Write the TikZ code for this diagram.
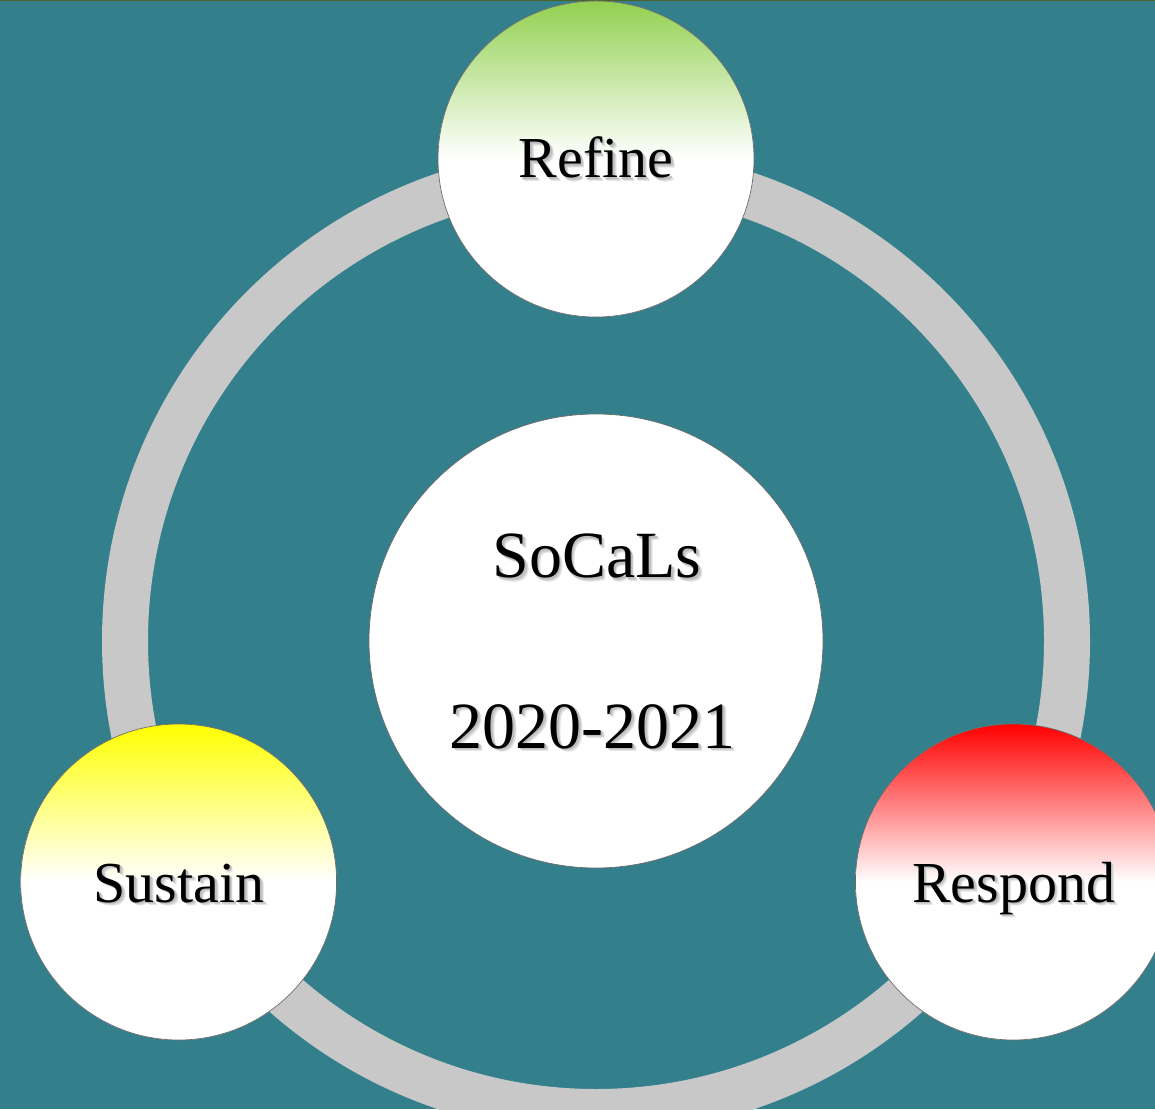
\documentclass[tikz,border=0pt]{standalone}
\usepackage{fontspec}
\setmainfont{Liberation Serif}
\definecolor{bg}{HTML}{337F8C}
\definecolor{ringc}{HTML}{C8C8C8}
\definecolor{topline}{HTML}{4F6228}
\definecolor{cgreen}{HTML}{92D050}
\definecolor{cyellow}{HTML}{FFFF00}
\definecolor{cred}{HTML}{FF0000}
\definecolor{edgec}{HTML}{6A6A6A}
\pgfdeclareverticalshading{fadegreen}{100bp}{color(0bp)=(white); color(50bp)=(white); color(75bp)=(cgreen); color(100bp)=(cgreen)}
\pgfdeclareverticalshading{fadeyellow}{100bp}{color(0bp)=(white); color(50bp)=(white); color(75bp)=(cyellow); color(100bp)=(cyellow)}
\pgfdeclareverticalshading{fadered}{100bp}{color(0bp)=(white); color(50bp)=(white); color(75bp)=(cred); color(100bp)=(cred)}
\tikzset{
  disc/.style={circle, draw=edgec, line width=0.7pt, fill=white, inner sep=0pt, minimum size=#1},
  sat/.style={disc=316pt, path picture={\shade[shading=#1]
      (path picture bounding box.south west) rectangle (path picture bounding box.north east);}},
  lbl/.style={anchor=base, inner sep=0pt, font=\fontsize{58}{60}\selectfont, text=black},
  clbl/.style={anchor=base, inner sep=0pt, font=\fontsize{66}{70}\selectfont, text=black},
}
\newcommand\shtext[1]{%
  \rlap{\kern3.6pt\raisebox{-3.6pt}{\color{black!10}#1}}%
  \rlap{\kern2.7pt\raisebox{-2.7pt}{\color{black!18}#1}}%
  \rlap{\kern1.8pt\raisebox{-1.8pt}{\color{black!26}#1}}%
  #1}
\begin{document}
\begin{tikzpicture}[x=1pt, y=1pt]
  \useasboundingbox (0,0) rectangle (1155,1109);
  \clip (0,0) rectangle (1155,1109);
  \fill[bg] (0,0) rectangle (1155,1109);
  \fill[topline] (0,1107.5) rectangle (1155,1109);
  % ring
  \coordinate (hub) at (596,468);
  \draw[ringc, line width=46pt] (hub) circle[radius=471];
  % discs
  \node[sat=fadegreen] (refine) at (596,950) {};
  \node[sat=fadeyellow] (sustain) at (178.6,227) {};
  \node[sat=fadered] (respond) at (1013.4,227) {};
  \node[disc=454pt] (center) at (hub) {};
  % labels
  \node[lbl] (trefine) at (596,931) {\shtext{Refine}};
  \node[lbl] (tsustain) at (179,207) {\shtext{Sustain}};
  \node[lbl] (trespond) at (1013.5,207) {\shtext{Respond}};
  \node[clbl] (tsocals) at (597,531) {\shtext{SoCaLs}};
  \node[clbl] (tyears) at (592.5,361) {\shtext{2020-2021}};
\end{tikzpicture}
\end{document}
